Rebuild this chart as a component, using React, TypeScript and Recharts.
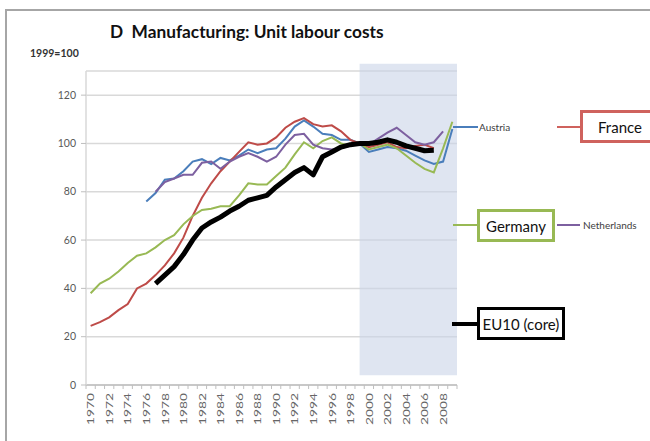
import { LineChart, Line, XAxis, YAxis, CartesianGrid, ReferenceArea } from "recharts";

// years on the category axis
const years = [
  1970, 1971, 1972, 1973, 1974, 1975, 1976, 1977, 1978, 1979,
  1980, 1981, 1982, 1983, 1984, 1985, 1986, 1987, 1988, 1989,
  1990, 1991, 1992, 1993, 1994, 1995, 1996, 1997, 1998, 1999,
  2000, 2001, 2002, 2003, 2004, 2005, 2006, 2007, 2008, 2009,
];

// unit labour costs, 1999=100 (each series starts at its own year)
const austriaStart = 1976;
const austria = [
  76, 79.5, 85, 85.5, 88.5, 92.5, 93.5, 91.5, 94, 93,
  95, 97.5, 96, 97.5, 98, 102, 107, 109.5, 107, 104,
  103.5, 101.5, 101.5, 100, 96.5, 97.5, 98.5, 98, 97, 95,
  93, 91.5, 92.5, 106,
];

const franceStart = 1970;
const france = [
  24.5, 26, 28, 31, 33.5, 40, 42, 45.5, 49.5, 54.5,
  61, 70, 77.5, 83.5, 88.5, 92.5, 96.5, 100.5, 99.5, 100,
  102.5, 106.5, 109, 110.5, 108, 107, 107.5, 105, 101.5, 100,
  98.5, 99.5, 100.5, 98.5, 98, 99, 99.5, 98,
];

const germanyStart = 1970;
const germany = [
  38, 42, 44, 47, 50.5, 53.5, 54.5, 57, 60, 62,
  66.5, 70, 72.5, 73, 74, 74, 78.5, 83.5, 83, 83,
  86.5, 90, 95.5, 100.5, 98, 101, 102.5, 100, 99, 100,
  97.5, 98.5, 99.5, 98, 95, 92, 89.5, 88, 98, 109,
];

const netherlandsStart = 1977;
const netherlands = [
  80, 84, 85.5,
  87, 87, 92, 92.5, 89.5, 92.5, 94.5, 96, 94.5, 92.5,
  94.5, 99.5, 103.5, 104, 99.5, 98, 97.5, 98, 99, 100,
  99.5, 102, 104.5, 106.5, 103.5, 100.5, 99.5, 100.5, 105,
];

const eu10Start = 1977;
const eu10 = [
  42, 45.5, 49,
  54, 60, 65, 67.5, 69.5, 72, 74, 76.5, 77.5, 78.5,
  82, 85, 88, 90, 87, 94.5, 96.5, 98.5, 99.5, 100,
  100, 100.5, 101.5, 100.5, 99, 98, 97, 97.2,
];

const yTicks = [0, 20, 40, 60, 80, 100, 120];
const shadeFrom = 1999;

const valueAt = (values: number[], start: number, year: number) => {
  const i = year - start;
  return i >= 0 && i < values.length ? values[i] : null;
};

const chartData = years.map((year) => ({
  year,
  austria: valueAt(austria, austriaStart, year),
  france: valueAt(france, franceStart, year),
  germany: valueAt(germany, germanyStart, year),
  netherlands: valueAt(netherlands, netherlandsStart, year),
  eu10: valueAt(eu10, eu10Start, year),
}));

const firstYear = years[0];
const lastYear = years[years.length - 1];
// tick marks sit between years, labels on every second year
const xTicks = years.flatMap((y) => [y - 0.5, y]).concat([lastYear + 0.5]);

const font = "Lato, 'Open Sans', sans-serif";

const YearTick = (props: any) => {
  const { x, y, payload } = props;
  const v = payload.value;
  if (!Number.isInteger(v)) {
    return <line x1={x} x2={x} y1={y - 8} y2={y - 4} stroke="#bfbfbf" strokeWidth={1} />;
  }
  if ((v - firstYear) % 2 !== 0) return null;
  return (
    <text
      transform={`translate(${x},${y}) rotate(-90) scale(1.38,1)`}
      textAnchor="end"
      dominantBaseline="central"
      fontSize={10}
      fontFamily={font}
      fill="#666"
    >
      {v}
    </text>
  );
};

const hLine = (left: number, width: number, top: number, color: string, thick = 2) => (
  <div
    style={{
      position: "absolute",
      left,
      top: top - thick / 2,
      width,
      height: thick,
      background: color,
    }}
  />
);

const boxLabel = (text: string, left: number, top: number, width: number, color: string) => (
  <div
    style={{
      position: "absolute",
      left,
      top,
      width,
      height: 33,
      boxSizing: "border-box",
      border: `3px solid ${color}`,
      background: "#fff",
      fontFamily: font,
      fontSize: 15,
      color: "#111",
      display: "flex",
      alignItems: "center",
      justifyContent: "center",
    }}
  >
    {text}
  </div>
);

const smallLabel = (text: string, left: number, top: number) => (
  <div
    style={{
      position: "absolute",
      left,
      top: top - 7,
      lineHeight: "14px",
      fontFamily: font,
      fontSize: 10,
      color: "#404040",
    }}
  >
    {text}
  </div>
);

export default function App() {
  return (
    <div
      style={{
        position: "absolute",
        left: 0,
        top: 0,
        width: 650,
        height: 441,
        overflow: "hidden",
        background: "#fff",
      }}
    >
      <div
        style={{
          position: "absolute",
          left: 5,
          top: 9,
          width: 700,
          height: 500,
          border: "2px solid #a6a6a6",
        }}
      />
      <div
        style={{
          position: "absolute",
          left: 110,
          top: 20,
          lineHeight: "24px",
          whiteSpace: "pre",
          fontFamily: font,
          fontWeight: 700,
          fontSize: 17.3,
          color: "#111",
        }}
      >
        {"D  Manufacturing: Unit labour costs"}
      </div>
      <div
        style={{
          position: "absolute",
          left: 30,
          top: 46,
          lineHeight: "14px",
          fontFamily: font,
          fontWeight: 700,
          fontSize: 10.5,
          color: "#333",
        }}
      >
        1999=100
      </div>

      <div style={{ position: "absolute", left: 0, top: 0 }}>
        <LineChart
          width={650}
          height={441}
          data={chartData}
          margin={{ top: 71, right: 193, bottom: 16, left: 0 }}
        >
          <CartesianGrid vertical={false} stroke="#d9d9d9" strokeWidth={1.5} />
          <ReferenceArea
            x1={shadeFrom}
            x2={lastYear + 0.5}
            y1={4}
            y2={133}
            ifOverflow="visible"
            fill="#c9d4e8"
            fillOpacity={0.6}
            stroke="none"
          />
          <XAxis
            dataKey="year"
            type="number"
            domain={[firstYear - 0.5, lastYear + 0.5]}
            ticks={xTicks}
            interval={0}
            height={40}
            tickLine={false}
            tickSize={4}
            tickMargin={4}
            axisLine={{ stroke: "#bfbfbf", strokeWidth: 1.5 }}
            tick={<YearTick />}
          />
          <YAxis
            domain={[0, 130]}
            ticks={yTicks}
            interval={0}
            width={86}
            tickSize={5}
            tickMargin={5}
            axisLine={{ stroke: "#d9d9d9", strokeWidth: 1.5 }}
            tickLine={{ stroke: "#bfbfbf" }}
            tick={{ fontSize: 10.5, fontFamily: font, fill: "#595959" }}
          />
          <Line dataKey="austria" stroke="#4a7ebb" strokeWidth={2} dot={false} isAnimationActive={false} />
          <Line dataKey="france" stroke="#be4b48" strokeWidth={2} dot={false} isAnimationActive={false} />
          <Line dataKey="germany" stroke="#98b954" strokeWidth={2} dot={false} isAnimationActive={false} />
          <Line dataKey="netherlands" stroke="#7d60a0" strokeWidth={2} dot={false} isAnimationActive={false} />
          <Line
            dataKey="eu10"
            stroke="#000"
            strokeWidth={5}
            strokeLinejoin="round"
            dot={false}
            isAnimationActive={false}
          />
        </LineChart>
      </div>

      {hLine(453, 25, 127, "#4a7ebb")}
      {smallLabel("Austria", 479, 127)}
      {hLine(557, 23, 127, "#cf625d")}
      {boxLabel("France", 580, 110, 80, "#cf625d")}
      {hLine(453, 24, 225, "#98b954")}
      {boxLabel("Germany", 477, 209, 78, "#98b954")}
      {hLine(557, 23, 225, "#7d60a0")}
      {smallLabel("Netherlands", 583, 225)}
      {hLine(452, 25, 324, "#000", 4)}
      {boxLabel("EU10 (core)", 477, 307, 88, "#000")}
    </div>
  );
}
